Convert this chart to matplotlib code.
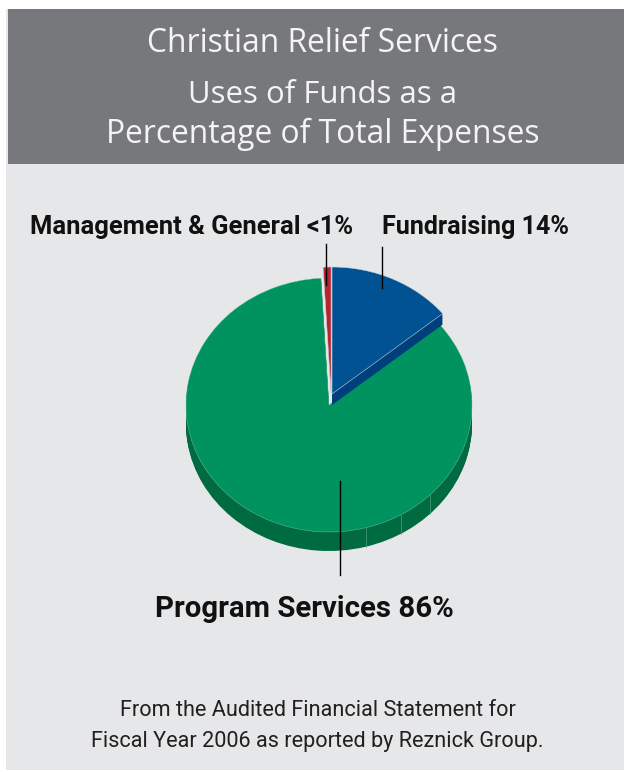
import numpy as np
import matplotlib
matplotlib.use("Agg")
import matplotlib.pyplot as plt
from matplotlib.patches import Rectangle

labels = ["Fundraising", "Program Services", "Management & General"]
values = [14.2, 85.7, 0.9]
top_colors = ["#005293", "#00935F", "#B7252F"]
side_colors = ["#003F7C", "#006B40", "#8C1C24"]
seam_angles = [15, 30, 45]  # facet lines on the side of the disc, degrees from 6 o'clock

title_lines = ["Christian Relief Services", "Uses of Funds as a", "Percentage of Total Expenses"]
note_lines = ["From the Audited Financial Statement for", "Fiscal Year 2006 as reported by Reznick Group."]

W, H = 624, 772
CX, CY, RX, RY = 329, 405, 143, 127


def pie_layer(ax, colors, edge=None, lw=0):
    wedges, _ = ax.pie(values, startangle=90, counterclock=False, colors=colors,
                       wedgeprops=dict(edgecolor=edge, linewidth=lw))
    return wedges


fig = plt.figure(figsize=(W / 100, H / 100), dpi=100, facecolor="white")

# background in pixel coordinates
bg = fig.add_axes([0, 0, 1, 1], zorder=0)
bg.set_xlim(0, W)
bg.set_ylim(H, 0)
bg.axis("off")
bg.add_patch(Rectangle((6, 9), W - 6, 761, color="#E6E7E8", lw=0))
bg.add_patch(Rectangle((8, 9), W - 8, 155, color="#77787B", lw=0))

# pie axes, one data unit is one radius, so the disc comes out squashed
pie = fig.add_axes([0, 0, 1, 1], zorder=1)
depth = 19 / RY
lift = 11 / RY
shift = 3 / RX

# green side
for d in np.linspace(depth, 0.005, 20):
    w = pie_layer(pie, ["none", side_colors[1], "none"])
    for p in w:
        p.set_center((0, -d))
# green top
w = pie_layer(pie, ["none", top_colors[1], "none"], edge="#7CC7A8", lw=0.3)
w[0].set_visible(False)
w[2].set_visible(False)

# blue and red sit a bit higher
for d in np.linspace(lift, 0.005, 12):
    w = pie_layer(pie, [side_colors[0], "none", "none"])
    for p in w:
        p.set_center((shift, lift - d))
w = pie_layer(pie, [top_colors[0], "none", top_colors[2]], edge="#C8D0DE", lw=0.4)
w[1].set_visible(False)
w[0].set_center((shift, lift))
w[2].set_center((shift * 0.7, lift))

for a in seam_angles:
    x = np.sin(np.radians(a))
    y = -np.cos(np.radians(a))
    pie.plot([x, x], [y, y - depth], color="#4FA07E", lw=0.5)

pie.set_aspect("auto")
pie.set_xlim(-CX / RX, (W - CX) / RX)
pie.set_ylim((CY - H) / RY, CY / RY)
pie.axis("off")

# text and leader lines on top
top = fig.add_axes([0, 0, 1, 1], zorder=2)
top.set_xlim(0, W)
top.set_ylim(H, 0)
top.axis("off")

top.plot([325.5, 325.5], [244, 285], color="black", lw=1)
top.plot([382, 382], [247, 288], color="black", lw=1)
top.plot([339.5, 339.5], [481, 575], color="black", lw=1)

font = "Open Sans"
bold = "Roboto"
top.text(322.5, 43, title_lines[0], ha="center", va="center", color="#F4F4F4", fontsize=22.9, family=font)
top.text(322.5, 95, title_lines[1], ha="center", va="center", color="#F4F4F4", fontsize=22.4, family=font)
top.text(322.5, 134, title_lines[2], ha="center", va="center", color="#F4F4F4", fontsize=22.9, family=font)

top.text(30, 227, labels[2] + " <1%", ha="left", va="center", color="#111111", fontsize=18.4, fontweight="bold", family=bold)
top.text(382, 227, labels[0] + " 14%", ha="left", va="center", color="#111111", fontsize=18.1, fontweight="bold", family=bold)
top.text(304.5, 609, labels[1] + " 86%", ha="center", va="center", color="#111111", fontsize=21.2, fontweight="bold", family=bold)

top.text(317.5, 711, note_lines[0], ha="center", va="center", color="#231F20", fontsize=15.6, family=bold)
top.text(317.5, 742, note_lines[1], ha="center", va="center", color="#231F20", fontsize=15.6, family=bold)

plt.savefig("out.png", dpi=100)
